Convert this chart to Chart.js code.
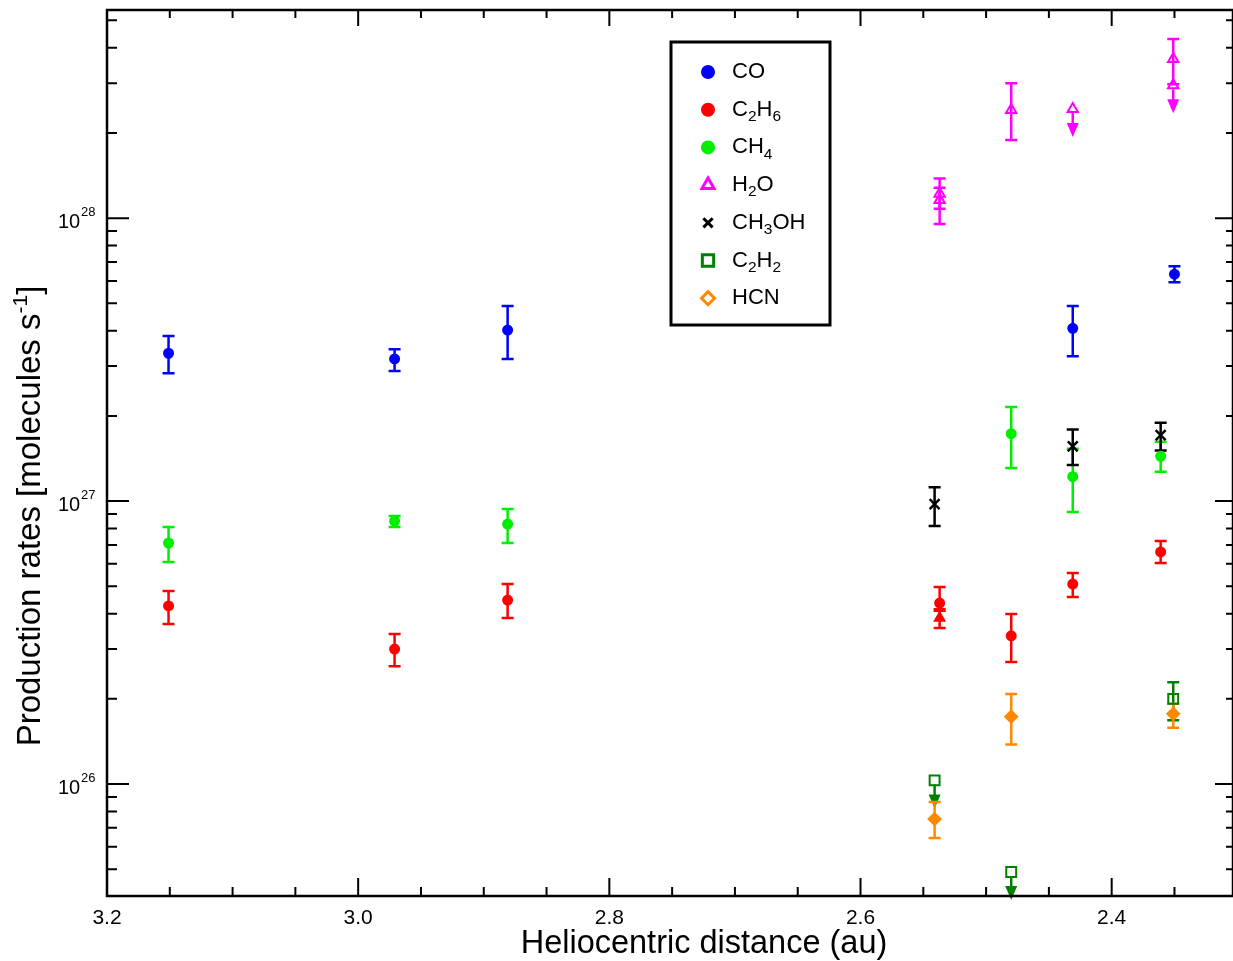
<!DOCTYPE html>
<html>
<head>
<meta charset="utf-8">
<script src="https://cdn.jsdelivr.net/npm/chart.js@4/dist/chart.umd.min.js"></script>
<style>
  html, body { margin: 0; padding: 0; background: #fff; }
  canvas { display: block; }
</style>
</head>
<body>
<canvas id="rates" width="1233" height="961"></canvas>
<script>
// --- data (heliocentric distance in au, rates in molecules/s) ---
const coDist = [3.151, 2.971, 2.881, 2.431, 2.350];
const coRate = [3.33e27, 3.18e27, 4.02e27, 4.08e27, 6.34e27];
const coLow = [2.83e27, 2.88e27, 3.18e27, 3.25e27, 5.94e27];
const coHigh = [3.83e27, 3.44e27, 4.89e27, 4.89e27, 6.76e27];

const c2h6Dist = [3.151, 2.971, 2.881, 2.537, 2.480, 2.431, 2.361];
const c2h6Rate = [4.26e26, 3.00e26, 4.47e26, 4.36e26, 3.34e26, 5.09e26, 6.61e26];
const c2h6Low = [3.68e26, 2.61e26, 3.86e26, 4.15e26, 2.70e26, 4.58e26, 6.04e26];
const c2h6High = [4.81e26, 3.39e26, 5.09e26, 4.97e26, 3.99e26, 5.57e26, 7.23e26];
// second C2H6 measurement (triangle)
const c2h6bDist = [2.537];
const c2h6bRate = [3.86e26];
const c2h6bLow = [3.56e26];
const c2h6bHigh = [4.10e26];

const ch4Dist = [3.151, 2.971, 2.881, 2.480, 2.431, 2.361];
const ch4Rate = [7.11e26, 8.50e26, 8.29e26, 1.73e27, 1.22e27, 1.44e27];
const ch4Low = [6.09e26, 8.09e26, 7.11e26, 1.31e27, 9.15e26, 1.27e27];
const ch4High = [8.09e26, 8.85e26, 9.37e26, 2.15e27, 1.53e27, 1.62e27];

const h2oDist = [2.537, 2.537, 2.480, 2.351];
const h2oRate = [1.22e28, 1.16e28, 2.41e28, 3.65e28];
const h2oLow = [1.08e28, 9.53e27, 1.89e28, 2.97e28];
const h2oHigh = [1.38e28, 1.28e28, 3.00e28, 4.30e28];
const h2oLimDist = [2.431, 2.351];
const h2oLimRate = [2.43e28, 2.95e28];

const ch3ohDist = [2.541, 2.431, 2.361];
const ch3ohRate = [9.76e26, 1.56e27, 1.71e27];
const ch3ohLow = [8.17e26, 1.34e27, 1.51e27];
const ch3ohHigh = [1.12e27, 1.79e27, 1.89e27];

const c2h2Dist = [2.351];
const c2h2Rate = [2.00e26];
const c2h2Low = [1.68e26];
const c2h2High = [2.29e26];
const c2h2LimDist = [2.541, 2.480];
const c2h2LimRate = [1.03e26, 4.89e25];

const hcnDist = [2.541, 2.480, 2.351];
const hcnRate = [7.52e25, 1.73e26, 1.77e26];
const hcnLow = [6.44e25, 1.38e26, 1.58e26];
const hcnHigh = [8.63e25, 2.08e26, 1.92e26];

const xTickLabels = ['3.2', '3.0', '2.8', '2.6', '2.4'];
const yDecades = [26, 27, 28];

const FONT = '"Liberation Sans", Arial, Helvetica, sans-serif';

function pts(xs, ys) {
  return xs.map((x, i) => ({ x, y: ys[i] }));
}

function makeSet(label, xs, ys, lo, hi, color, style, radius, filled, extra) {
  return Object.assign({
    label,
    data: pts(xs, ys),
    errLow: lo,
    errHigh: hi,
    errColor: color,
    pointStyle: style,
    pointRadius: radius,
    borderColor: color,
    backgroundColor: filled ? color : 'rgba(0,0,0,0)',
    borderWidth: 2
  }, extra || {});
}

const datasets = [
  makeSet('CO', coDist, coRate, coLow, coHigh, '#0000ff', 'circle', 4.5, true),
  makeSet('C2H6', c2h6Dist, c2h6Rate, c2h6Low, c2h6High, '#ff0000', 'circle', 4.5, true),
  makeSet('C2H6 b', c2h6bDist, c2h6bRate, c2h6bLow, c2h6bHigh, '#ff0000', 'triangle', 5.5, true),
  makeSet('CH4', ch4Dist, ch4Rate, ch4Low, ch4High, '#00ee00', 'circle', 4.5, true),
  makeSet('H2O', h2oDist, h2oRate, h2oLow, h2oHigh, '#ff00ff', 'triangle', 6, false),
  makeSet('H2O lim', h2oLimDist, h2oLimRate, null, null, '#ff00ff', 'triangle', 6, false, { upperLimit: true }),
  makeSet('CH3OH', ch3ohDist, ch3ohRate, ch3ohLow, ch3ohHigh, '#000000', 'crossRot', 7, false, { borderWidth: 2.5 }),
  makeSet('C2H2', c2h2Dist, c2h2Rate, c2h2Low, c2h2High, '#008000', 'rect', 7, false),
  makeSet('C2H2 lim', c2h2LimDist, c2h2LimRate, null, null, '#008000', 'rect', 7, false, { upperLimit: true }),
  makeSet('HCN', hcnDist, hcnRate, hcnLow, hcnHigh, '#ff8800', 'rectRot', 6, true)
];

// error bars and upper limit arrows, placed through the chart scales
const errorBars = {
  id: 'errorBars',
  beforeDatasetsDraw(chart) {
    const { ctx, scales: { y } } = chart;
    ctx.save();
    chart.data.datasets.forEach((ds, i) => {
      const meta = chart.getDatasetMeta(i);
      ctx.strokeStyle = ds.errColor;
      ctx.fillStyle = ds.errColor;
      ctx.lineWidth = 2.5;
      meta.data.forEach((el, j) => {
        const px = el.x;
        if (ds.errLow) {
          const yl = y.getPixelForValue(ds.errLow[j]);
          const yh = y.getPixelForValue(ds.errHigh[j]);
          ctx.beginPath();
          ctx.moveTo(px, yl); ctx.lineTo(px, yh);
          ctx.moveTo(px - 6, yl); ctx.lineTo(px + 6, yl);
          ctx.moveTo(px - 6, yh); ctx.lineTo(px + 6, yh);
          ctx.stroke();
        }
        if (ds.upperLimit) {
          const py = el.y;
          ctx.beginPath();
          ctx.moveTo(px, py + 4); ctx.lineTo(px, py + 20);
          ctx.stroke();
          ctx.beginPath();
          ctx.moveTo(px - 6, py + 14);
          ctx.lineTo(px + 6, py + 14);
          ctx.lineTo(px, py + 28);
          ctx.closePath();
          ctx.fill();
        }
      });
    });
    ctx.restore();
  }
};

function drawSub(ctx, parts, x, y, big, small) {
  // parts: array of [text, isSub]
  let cx = x;
  parts.forEach(([t, sub]) => {
    ctx.font = (sub ? small : big) + 'px ' + FONT;
    ctx.fillText(t, cx, sub ? y + 7 : y);
    cx += ctx.measureText(t).width;
  });
}

const legendItems = [
  { parts: [['CO', 0]], color: '#0000ff', style: 'circle', r: 5.5, fill: true },
  { parts: [['C', 0], ['2', 1], ['H', 0], ['6', 1]], color: '#ff0000', style: 'circle', r: 5.5, fill: true },
  { parts: [['CH', 0], ['4', 1]], color: '#00ee00', style: 'circle', r: 5.5, fill: true },
  { parts: [['H', 0], ['2', 1], ['O', 0]], color: '#ff00ff', style: 'triangle', r: 7, fill: false },
  { parts: [['CH', 0], ['3', 1], ['OH', 0]], color: '#000000', style: 'crossRot', r: 6.5, fill: false },
  { parts: [['C', 0], ['2', 1], ['H', 0], ['2', 1]], color: '#008000', style: 'rect', r: 8, fill: false },
  { parts: [['HCN', 0]], color: '#ff8800', style: 'rectRot', r: 6.5, fill: false }
];

const frame = {
  id: 'frame',
  afterDraw(chart) {
    const { ctx, chartArea: a, scales: { x, y } } = chart;
    ctx.save();
    ctx.strokeStyle = '#000';
    ctx.fillStyle = '#000';

    // ticks
    ctx.lineWidth = 2;
    ctx.beginPath();
    for (let k = 47; k <= 64; k++) {
      const px = x.getPixelForValue(k * 0.05);
      const major = k % 4 === 0;
      ctx.moveTo(px, a.bottom); ctx.lineTo(px, a.bottom - (major ? 18 : 9));
      ctx.moveTo(px, a.top); ctx.lineTo(px, a.top + (major ? 16 : 8));
    }
    for (let d = 25; d <= 28; d++) {
      for (let m = 1; m <= 9; m++) {
        const v = m * Math.pow(10, d);
        if (v < y.min || v > y.max) continue;
        const py = y.getPixelForValue(v);
        const major = m === 1;
        ctx.moveTo(a.left, py); ctx.lineTo(a.left + (major ? 22 : 10), py);
        ctx.moveTo(a.right, py); ctx.lineTo(a.right - (major ? 18 : 7), py);
      }
    }
    ctx.stroke();

    ctx.lineWidth = 2.5;
    ctx.strokeRect(a.left, a.top, a.right - a.left, a.bottom - a.top);

    // x tick labels
    ctx.font = '21px ' + FONT;
    ctx.textAlign = 'center';
    ctx.textBaseline = 'middle';
    xTickLabels.forEach(t => {
      ctx.fillText(t, x.getPixelForValue(parseFloat(t)), a.bottom + 22);
    });

    // y tick labels 10^n
    ctx.textAlign = 'left';
    yDecades.forEach(d => {
      const py = y.getPixelForValue(Math.pow(10, d));
      ctx.font = '20px ' + FONT;
      ctx.fillText('10', 58, py + 4);
      ctx.font = '13px ' + FONT;
      ctx.fillText(String(d), 81, py - 6);
    });

    // axis titles
    ctx.font = '32.5px ' + FONT;
    ctx.textAlign = 'center';
    ctx.fillText('Heliocentric distance (au)', 704, a.bottom + 48);

    ctx.save();
    ctx.translate(31, 516);
    ctx.rotate(-Math.PI / 2);
    ctx.textAlign = 'left';
    const mainT = 'Production rates [molecules s';
    ctx.font = '33px ' + FONT;
    const w1 = ctx.measureText(mainT).width;
    ctx.font = '21px ' + FONT;
    const w2 = ctx.measureText('-1').width;
    ctx.font = '33px ' + FONT;
    const w3 = ctx.measureText(']').width;
    let sx = -(w1 + w2 + w3) / 2;
    ctx.fillText(mainT, sx, 0);
    ctx.font = '21px ' + FONT;
    ctx.fillText('-1', sx + w1, -10);
    ctx.font = '33px ' + FONT;
    ctx.fillText(']', sx + w1 + w2, 0);
    ctx.restore();

    // legend box
    ctx.fillStyle = '#fff';
    ctx.fillRect(671, 42, 159, 283);
    ctx.lineWidth = 3;
    ctx.strokeStyle = '#000';
    ctx.strokeRect(671, 42, 159, 283);
    ctx.textAlign = 'left';
    ctx.textBaseline = 'middle';
    legendItems.forEach((it, i) => {
      const ly = 72 + i * 37.7;
      ctx.strokeStyle = it.color;
      ctx.fillStyle = it.fill ? it.color : '#fff';
      Chart.helpers.drawPoint(ctx, { pointStyle: it.style, radius: it.r, borderWidth: 2, rotation: 0 }, 708, ly);
      ctx.fillStyle = '#000';
      drawSub(ctx, it.parts, 732, ly, 22, 15.5);
    });

    ctx.restore();
  }
};

const chart = new Chart(document.getElementById('rates').getContext('2d'), {
  type: 'scatter',
  data: { datasets },
  options: {
    responsive: false,
    animation: false,
    layout: { autoPadding: false, padding: { left: 107, right: 0, top: 10, bottom: 65 } },
    plugins: {
      legend: { display: false },
      tooltip: { enabled: false }
    },
    scales: {
      x: {
        type: 'linear',
        reverse: true,
        min: 2.3034,
        max: 3.2,
        display: false
      },
      y: {
        type: 'logarithmic',
        min: 4.02e25,
        max: 5.44e28,
        display: false
      }
    }
  },
  plugins: [errorBars, frame]
});
</script>
</body>
</html>
